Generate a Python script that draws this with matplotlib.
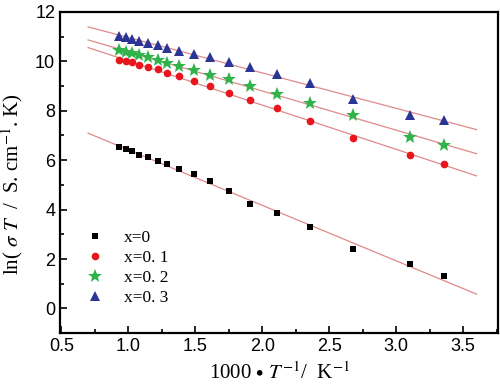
import numpy as np
import matplotlib
matplotlib.use('Agg')
import matplotlib.pyplot as plt
from matplotlib.ticker import MultipleLocator

# 1000/T values (same temperatures for every sample)
inv_t = [0.93, 0.98, 1.03, 1.08, 1.15, 1.22, 1.29, 1.38, 1.49, 1.61,
         1.75, 1.91, 2.11, 2.36, 2.68, 3.10, 3.36]

# ln(sigma T) for each composition
y_x0 = [6.52, 6.44, 6.36, 6.23, 6.11, 5.95, 5.83, 5.63, 5.43, 5.14,
        4.74, 4.21, 3.85, 3.28, 2.39, 1.78, 1.30]
y_x01 = [10.04, 10.00, 9.96, 9.84, 9.76, 9.68, 9.51, 9.39, 9.19, 8.99,
         8.70, 8.42, 8.10, 7.57, 6.88, 6.23, 5.83]
y_x02 = [10.45, 10.36, 10.32, 10.24, 10.16, 10.04, 9.92, 9.80, 9.64, 9.43,
         9.27, 8.99, 8.66, 8.30, 7.81, 6.92, 6.60]
y_x03 = [11.01, 10.97, 10.89, 10.81, 10.73, 10.65, 10.53, 10.40, 10.28, 10.16,
         9.96, 9.76, 9.47, 9.11, 8.46, 7.81, 7.61]

labels = ['x=0', 'x=0. 1', 'x=0. 2', 'x=0. 3']
colors = ['black', '#e8161c', '#2fb34a', '#2a3596']
markers = ['s', 'o', '*', '^']
sizes = [5, 5.5, 10, 6.5]

plt.rcParams['mathtext.fontset'] = 'stix'

fig = plt.figure(figsize=(5, 3.86), dpi=100)
ax = fig.add_axes([0.12, 0.137, 0.876, 0.832])

xfit = np.array([0.7, 3.6])
for y, lab, c, m, s in zip([y_x0, y_x01, y_x02, y_x03], labels, colors, markers, sizes):
    # linear fit line
    k, b = np.polyfit(inv_t, y, 1)
    ax.plot(xfit, k * xfit + b, color='#de8a8a', linewidth=0.9, zorder=1)
    ax.plot(inv_t, y, linestyle='none', marker=m, color=c, markersize=s,
            markeredgewidth=0, label=lab, zorder=2)

ax.set_xlim(0.49, 3.76)
ax.set_ylim(-1, 12)
ax.xaxis.set_major_locator(MultipleLocator(0.5))
ax.xaxis.set_minor_locator(MultipleLocator(0.25))
ax.yaxis.set_major_locator(MultipleLocator(2))
ax.yaxis.set_minor_locator(MultipleLocator(1))
ax.tick_params(which='both', direction='in', top=False, right=False)
ax.tick_params(which='major', length=5, width=1.2, labelsize=13)
ax.tick_params(which='minor', length=3, width=1.2)
for lab in ax.get_xticklabels() + ax.get_yticklabels():
    lab.set_family('Liberation Sans')
for sp in ax.spines.values():
    sp.set_linewidth(1.6)

ax.set_xlabel(r'1000 $\bullet$ $T^{-1}$/  K$^{-1}$', family='Liberation Serif',
              fontsize=15)
ax.xaxis.set_label_coords(0.5, -0.092)
ax.set_ylabel(r'ln( $\sigma$ $T$  /  S. cm$^{-1}$. K)', family='Liberation Serif',
              fontsize=15)
ax.yaxis.set_label_coords(-0.08, 0.465)

leg = ax.legend(loc='lower left', bbox_to_anchor=(0.015, 0.035), frameon=False,
                prop={'family': 'Liberation Serif', 'size': 12.5},
                handletextpad=0.9, labelspacing=0.22, handlelength=1.5)

plt.savefig('out.png', dpi=100)
